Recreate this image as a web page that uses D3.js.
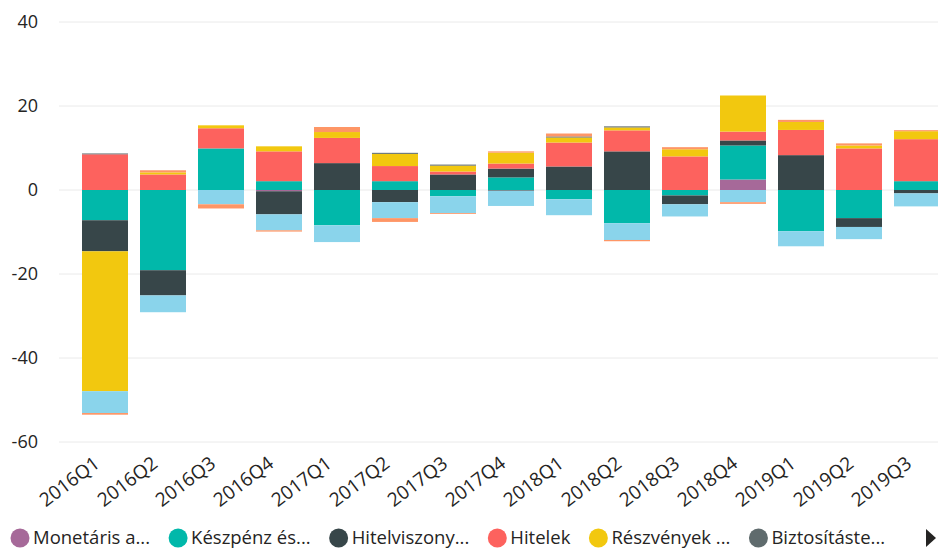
<!DOCTYPE html>
<meta charset="utf-8">
<script src="https://cdn.jsdelivr.net/npm/d3@7"></script>
<style>
  body { margin: 0; background: #fff; }
  text { font-family: "Open Sans", "Segoe UI", sans-serif; fill: #252423; }
</style>
<div id="js_chart"></div>
<script>

// ******************************************
// data
// ******************************************
const quarters = ["2016Q1", "2016Q2", "2016Q3", "2016Q4", "2017Q1", "2017Q2", "2017Q3", "2017Q4",
                  "2018Q1", "2018Q2", "2018Q3", "2018Q4", "2019Q1", "2019Q2", "2019Q3"];

const seriesNames = ["Monetáris arany és SDR", "Készpénz és betétek", "Hitelviszonyt megtestesítő értékpapírok",
                     "Hitelek", "Részvények és befektetési jegyek", "Biztosítástechnikai tartalékok",
                     "Származtatott pénzügyi eszközök", "Egyéb követelések"];

const legendLabels = ["Monetáris a...", "Készpénz és...", "Hitelviszony...", "Hitelek", "Részvények ...", "Biztosításte..."];

const monetaris    = [0, 0, 0, -0.3, 0, 0, 0, 0, 0, 0, 0, 2.5, 0, 0, 0];
const keszpenz     = [-7.2, -19.1, 9.9, 2.1, -8.4, 2.1, -1.5, 3.0, -2.2, -7.9, -1.3, 8.1, -9.8, -6.7, 2.1];
const hitelviszony = [-7.4, -6.0, 0, -5.5, 6.4, -2.9, 3.7, 2.1, 5.6, 9.2, -2.1, 1.2, 8.3, -2.1, -0.8];
const hitelek      = [8.5, 3.7, 4.8, 7.1, 6.0, 3.6, 0.7, 1.2, 5.7, 5.0, 8.0, 2.1, 6.0, 9.9, 10.0];
const reszvenyek   = [-33.3, 0.5, 0.7, 1.2, 1.4, 2.9, 1.4, 2.6, 1.2, 0.7, 1.7, 8.6, 1.9, 0.7, 1.9];
const biztositas   = [0.2, 0, 0, 0, 0, 0.25, 0.25, -0.2, 0.25, 0.25, 0, 0, 0, 0, 0];
const szarmaztatott = [-5.2, -4.0, -3.4, -3.8, -4.0, -3.8, -4.0, -3.6, -3.8, -4.0, -2.9, -2.9, -3.6, -2.9, -3.1];
const egyeb        = [-0.4, 0.5, -1.0, -0.3, 1.2, -0.9, -0.2, 0.3, 0.7, -0.3, 0.5, -0.4, 0.5, 0.5, 0.25];

const yTicks = [40, 20, 0, -20, -40, -60];

const colors = ["#A66999", "#01B8AA", "#374649", "#FD625E", "#F2C80F", "#5F6B6D", "#8AD4EB", "#FE9666"];

// ******************************************
function createPlot() {
    const width = 938, height = 550;
    const allSeries = [monetaris, keszpenz, hitelviszony, hitelek, reszvenyek, biztositas, szarmaztatott, egyeb];

    let rows = quarters.map(function (q, i) {
        let r = {q: q};
        seriesNames.forEach(function (s, j) { r[s] = allSeries[j][i]; });
        return r;
    });

    let stacked = d3.stack()
        .keys(seriesNames)
        .offset(d3.stackOffsetDiverging)(rows);

    let x = d3.scaleBand()
        .domain(quarters)
        .range([76, 946])
        .paddingInner(0.207)
        .paddingOuter(0.1035);

    let y = d3.scaleLinear()
        .domain([-60, 40])
        .range([442, 22]);

    let color = d3.scaleOrdinal().domain(seriesNames).range(colors);

    var svg = d3.select("#js_chart")
        .append("svg")
        .attr("width", width)
        .attr("height", height);

    // grid + y labels
    svg.append("g")
        .selectAll("line")
        .data(yTicks)
        .enter()
            .append("line")
            .attr("x1", 59).attr("x2", width)
            .attr("y1", function (d) { return y(d); })
            .attr("y2", function (d) { return y(d); })
            .attr("stroke", "#eaeaea")
            .attr("stroke-width", 1);

    svg.append("g")
        .selectAll("text")
        .data(yTicks)
        .enter()
            .append("text")
            .attr("x", 38)
            .attr("y", function (d) { return y(d); })
            .attr("dy", "0.35em")
            .attr("text-anchor", "end")
            .style("font-size", "18px")
            .text(function (d) { return d; });

    // bars
    svg.append("g")
        .selectAll("g")
        .data(stacked)
        .enter()
            .append("g")
            .attr("fill", function (d) { return color(d.key); })
            .selectAll("rect")
            .data(function (d) { return d; })
            .enter()
                .append("rect")
                .attr("x", function (d) { return x(d.data.q); })
                .attr("width", x.bandwidth())
                .attr("y", function (d) { return y(Math.max(d[0], d[1])); })
                .attr("height", function (d) { return Math.abs(y(d[0]) - y(d[1])); });

    // x labels
    svg.append("g")
        .selectAll("text")
        .data(quarters)
        .enter()
            .append("text")
            .attr("text-anchor", "end")
            .style("font-size", "19px")
            .attr("transform", function (d) {
                return "translate(" + (x(d) + x.bandwidth() / 2 - 4) + ",466) rotate(-37)";
            })
            .text(function (d) { return d; });

    // legend
    let lg = svg.append("g").attr("transform", "translate(0,538)");
    let cx = 20;
    legendLabels.forEach(function (lbl, i) {
        lg.append("circle")
            .attr("cx", cx).attr("cy", 0).attr("r", 9.5)
            .attr("fill", colors[i]);
        let t = lg.append("text")
            .attr("x", cx + 13)
            .attr("dy", "0.35em")
            .style("font-size", "18.5px")
            .text(lbl);
        cx = cx + 13 + t.node().getComputedTextLength() + 28;
    });

    lg.append("path")
        .attr("d", "M926,-9 L936,0 L926,9 Z")
        .attr("fill", "#252423");
}

createPlot();

</script>
